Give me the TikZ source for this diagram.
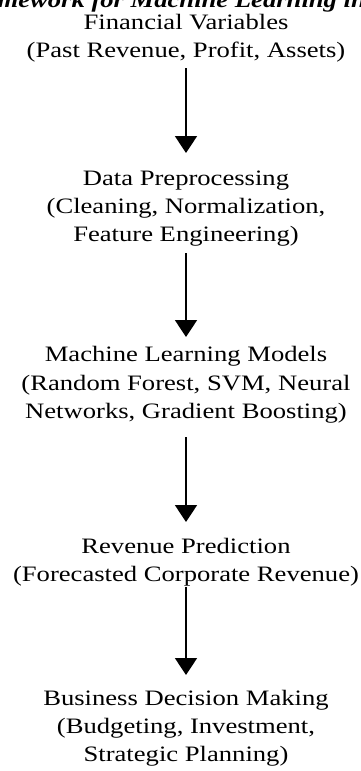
\documentclass[tikz,border=0pt]{standalone}
\usepackage{fontspec}
\setmainfont[FakeStretch=1.21]{Liberation Serif}
\usetikzlibrary{arrows.meta}
\begin{document}
\begin{tikzpicture}[x=1pt,y=-1pt,
  txt/.style={inner sep=0pt, anchor=base, align=center,
    font=\fontsize{22}{28.3}\selectfont},
  ttl/.style={inner sep=0pt, anchor=base west,
    font=\fontsize{22}{28.3}\selectfont\bfseries\itshape},
  arr/.style={line width=1.8pt, -{Triangle[width=22pt,length=17pt]}}]
\useasboundingbox (0,0) rectangle (361,771);
\clip (0,0) rectangle (361,771);
\node[ttl] (title) at (-44,7.5) {Framework for Machine Learning in};
\node[txt] (n1) at (186,57.7) {Financial Variables\\(Past Revenue, Profit, Assets)};
\node[txt] (n2) at (186,241.7) {Data Preprocessing\\(Cleaning, Normalization,\\Feature Engineering)};
\node[txt] (n3) at (186,418.3) {Machine Learning Models\\(Random Forest, SVM, Neural\\Networks, Gradient Boosting)};
\node[txt] (n4) at (186,581.7) {Revenue Prediction\\(Forecasted Corporate Revenue)};
\node[txt] (n5) at (186,761.7) {Business Decision Making\\(Budgeting, Investment,\\Strategic Planning)};
\draw[arr] ([yshift=-10.3pt]n1.base) -- ([yshift=88.7pt]n2.base);
\draw[arr] ([yshift=-11.3pt]n2.base) -- ([yshift=81.3pt]n3.base);
\draw[arr] ([yshift=-18.7pt]n3.base) -- ([yshift=59.7pt]n4.base);
\draw[arr] ([yshift=-5.3pt]n4.base) -- ([yshift=86.7pt]n5.base);
\end{tikzpicture}
\end{document}
